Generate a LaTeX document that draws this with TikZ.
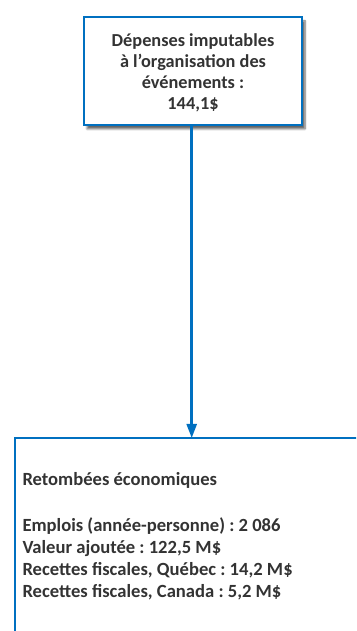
\documentclass[tikz,border=0pt]{standalone}
\usepackage{fontspec}
\setmainfont{Carlito}
\frenchspacing
\usetikzlibrary{arrows.meta,shadows.blur}
\definecolor{boxblue}{RGB}{0,112,192}
\definecolor{txtgrey}{RGB}{51,51,51}
\tikzset{
  x=1pt,y=1pt,
  topbox/.style={draw=boxblue,line width=2.5pt,fill=white,minimum width=218pt,minimum height=108pt,inner sep=0pt,
    blur shadow={shadow xshift=3pt,shadow yshift=-4pt,shadow blur steps=6,shadow opacity=60}},
  toptext/.style={align=center,inner sep=0pt,text=txtgrey,font=\bfseries\fontsize{18.3}{21}\selectfont},
  bottomline/.style={anchor=base west,inner sep=0pt,text=txtgrey,font=\bfseries\fontsize{18.6}{21.9}\selectfont},
  conn/.style={draw=boxblue,line width=2.5pt,-{Triangle[width=10pt,length=14pt]}}
}
\begin{document}
\begin{tikzpicture}
\useasboundingbox (0,0) rectangle (356,631);
\clip (0,0) rectangle (356,631);
\node[topbox] (top) at (193,560) {};
\node[toptext] (toptxt) at ([yshift=-2pt]top.center) {Dépenses imputables\\à l’organisation des\\événements :\\144,1\$};
\draw[draw=boxblue,line width=2.5pt] (15,-20) |- (380,193);
\coordinate (bottop) at (191.7,193);
\draw[conn] (top.south -| bottop) -- (bottop);
\node[bottomline] (l1) at (22.3,145) {Retombées économiques};
\node[bottomline] (l2) at (22.3,99.3) {Emplois (année-personne) : 2 086};
\node[bottomline] (l3) at (22.3,77.7) {Valeur ajoutée : 122,5 M\$};
\node[bottomline] (l4) at (22.3,55) {Recettes fiscales, Québec : 14,2 M\$};
\node[bottomline] (l5) at (22.3,33.3) {Recettes fiscales, Canada : 5,2 M\$};
\end{tikzpicture}
\end{document}
